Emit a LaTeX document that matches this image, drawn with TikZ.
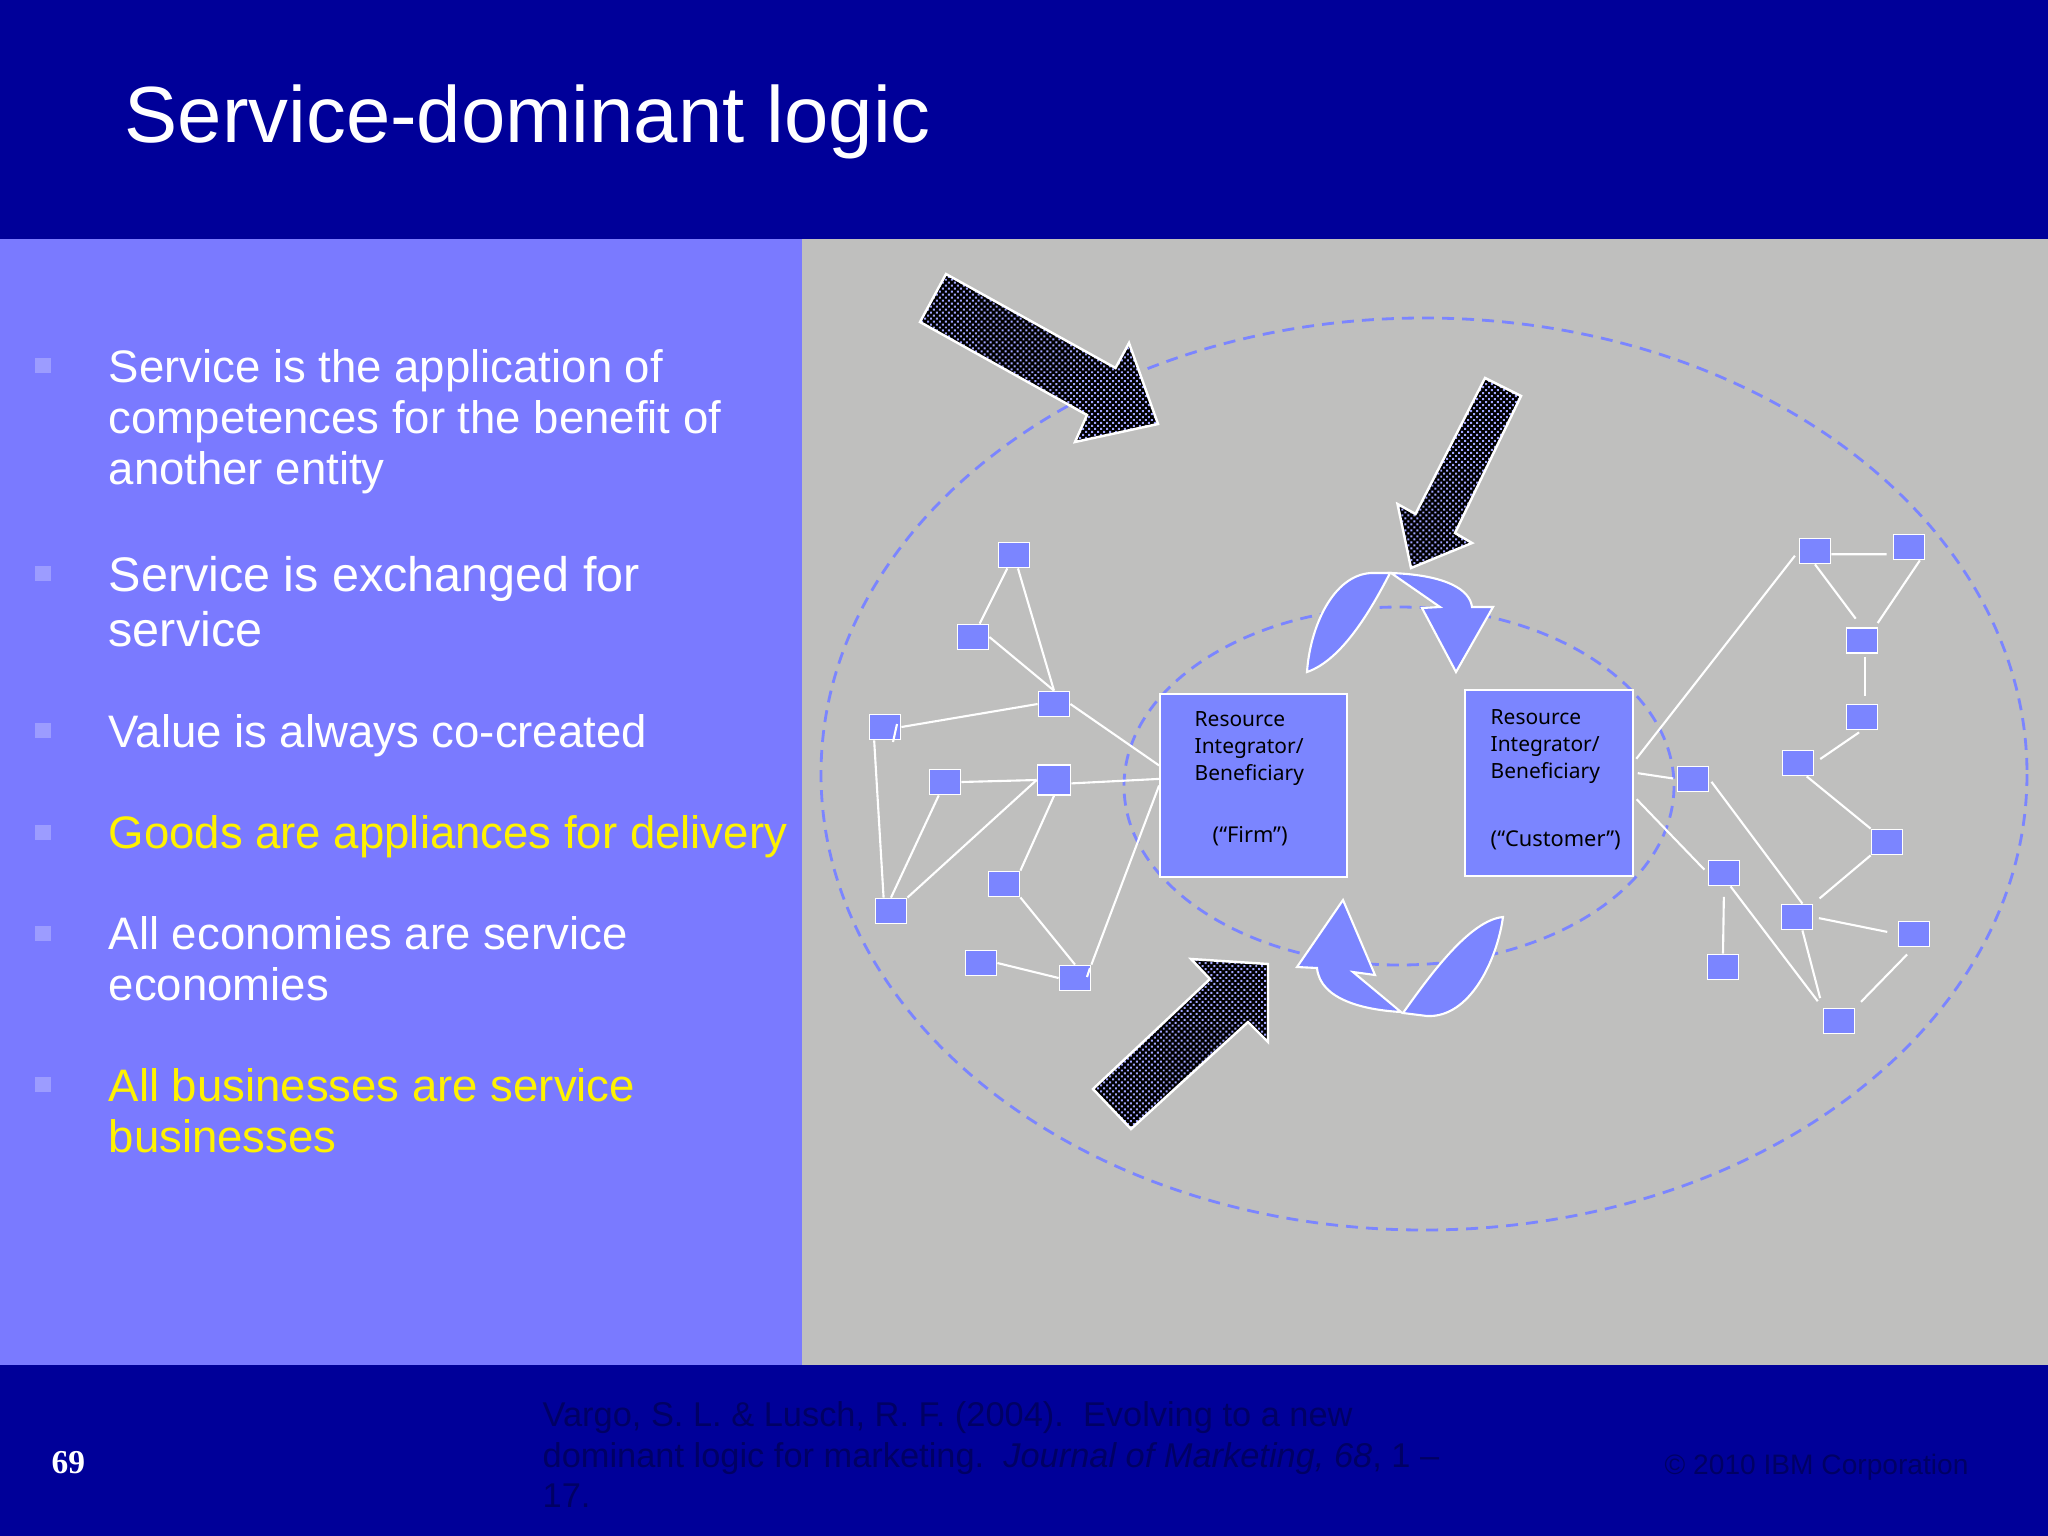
\documentclass[tikz,border=0pt]{standalone}
\usepackage{fontspec}
\setmainfont{Liberation Sans}
\newfontfamily\boxfont{Noto Sans}
\newfontfamily\pagefont{Liberation Serif}
\usetikzlibrary{patterns.meta}
\definecolor{slideblue}{HTML}{000099}
\definecolor{panelblue}{HTML}{7A7AFF}
\definecolor{periwinkle}{HTML}{7B85FF}
\definecolor{panelgray}{HTML}{BFBFBE}
\definecolor{bulletblue}{HTML}{9C9CFF}
\definecolor{dotblue}{HTML}{A0A4FF}
\definecolor{sourcetext}{HTML}{000064}
\tikzset{
  member/.style={draw=white, fill=periwinkle, line width=0.5pt, minimum width=0.31cm, minimum height=0.25cm, inner sep=0pt},
  party/.style={draw=white, fill=periwinkle, line width=0.5pt, inner sep=0pt},
  link/.style={draw=white, line width=0.6pt},
  boundary/.style={draw=periwinkle, line width=0.8pt, dash pattern=on 3.4pt off 2.3pt},
  force/.style={draw=white, line width=0.7pt, preaction={fill=black}, pattern={Dots[angle=45, distance=1.2pt, radius=0.4pt]}, pattern color=dotblue},
  cycle/.style={draw=white, fill=periwinkle, line width=0.6pt},
  item/.style={anchor=north west, align=left, text=white, inner sep=0pt, font=\fontsize{12.95}{14.5}\selectfont},
  yellowitem/.style={item, text=yellow},
  bullet/.style={fill=bulletblue, minimum size=0.15cm, inner sep=0pt},
  boxtext/.style={anchor=north west, align=left, inner sep=0pt, font=\boxfont\fontsize{5.95}{7.7}\selectfont},
  roletext/.style={boxtext, font=\boxfont\fontsize{6.2}{7.7}\selectfont}
}
\begin{document}
\begin{tikzpicture}[x=0.01cm, y=-0.01cm]
  \useasboundingbox (0,0) rectangle (2048,1536);
  % slide background
  \fill[slideblue] (0,0) rectangle (2048,1536);
  \fill[panelblue] (0,239) rectangle (802,1365);
  \fill[panelgray] (802,239) rectangle (2048,1365);
  \node[anchor=base west, text=white, inner sep=0pt, font=\fontsize{22.66}{26}\selectfont] (title) at (124,142) {Service-dominant logic};
  % bullet list
  \node[bullet] (b1) at (43,365) {};
  \node[bullet] (b2) at (43,573) {};
  \node[bullet] (b3) at (43,730) {};
  \node[bullet] (b4) at (43,832) {};
  \node[bullet] (b5) at (43,933) {};
  \node[bullet] (b6) at (43,1084) {};
  \node[item] (item1) at (108,349) {Service is the application of\\competences for the benefit of\\another entity};
  \node[item, font=\fontsize{13.8}{15.4}\selectfont] (item2) at (108,556) {Service is exchanged for\\service};
  \node[item] (item3) at (108,714) {Value is always co-created};
  \node[yellowitem] (item4) at (108,815) {Goods are appliances for delivery};
  \node[item] (item5) at (108,916) {All economies are service\\economies};
  \node[yellowitem] (item6) at (108,1068) {All businesses are service\\businesses};
  % outer and inner boundary
  \draw[boundary] (1424,774) ellipse (603 and 456);
  \draw[boundary] (1399,786) ellipse (275 and 179);
  % big arrows
  \draw[force] (946,274) -- (920,322) -- (1087,415) -- (1075,442) -- (1158,424) -- (1129,343) -- (1115.5,368) -- cycle;
  \draw[force] (1485,378) -- (1521,396) -- (1455,533) -- (1472,543) -- (1411,568) -- (1397.5,504) -- (1415.5,514) -- cycle;
  \draw[force] (1093,1089) -- (1131,1129) -- (1248,1022) -- (1268,1042) -- (1268,964) -- (1191,959) -- (1210,979) -- cycle;
  % exchange cycle
  \draw[cycle] (1307,672) .. controls (1310,627) and (1333,575) .. (1371,573) -- (1390,573) .. controls (1371,610) and (1342,660) .. (1307,672) -- cycle;
  \draw[cycle] (1391,573) .. controls (1447,575) and (1470,590) .. (1472,607) -- (1493,607) -- (1456,672) -- (1422,608) -- (1440,607) -- cycle;
  \draw[cycle] (1343,900) -- (1375,975) -- (1353,972) -- (1401,1012) .. controls (1365,1010) and (1320,1000) .. (1317,968) -- (1297,967) -- cycle;
  \draw[cycle] (1403,1013) .. controls (1430,975) and (1470,920) .. (1503,917) .. controls (1497,960) and (1470,1018) .. (1427,1016) -- cycle;
  % resource integrators
  \node[party, minimum width=1.87cm, minimum height=1.83cm] (firm) at (1253.5,785.5) {};
  \node[party, minimum width=1.68cm, minimum height=1.86cm] (customer) at (1549,783) {};
  \node[boxtext] (firmlabel) at (1194,711) {Resource\\Integrator/\\Beneficiary};
  \node[roletext] (firmrole) at (1212,826) {(“Firm”)};
  \node[boxtext] (customerlabel) at (1490,709) {Resource\\Integrator/\\Beneficiary};
  \node[roletext] (customerrole) at (1490,830) {(“Customer”)};
  % left network
  \node[member] (n1) at (1014,555) {};
  \node[member] (n2) at (973,637) {};
  \node[member] (n3) at (1054,704) {};
  \node[member] (n4) at (885,727) {};
  \node[member] (n5) at (945,782) {};
  \node[member, minimum width=0.33cm, minimum height=0.3cm] (n6) at (1054,780) {};
  \node[member] (n7) at (891,911) {};
  \node[member] (n8) at (1004,884) {};
  \node[member] (n9) at (981,963) {};
  \node[member] (n10) at (1075,978) {};
  % right network
  \node[member] (r1) at (1815,551) {};
  \node[member] (r2) at (1909,547) {};
  \node[member] (r3) at (1862,640.5) {};
  \node[member] (r4) at (1862,717) {};
  \node[member] (r5) at (1798,763) {};
  \node[member] (r6) at (1887,842) {};
  \node[member] (r7) at (1693,779) {};
  \node[member] (r8) at (1724,873) {};
  \node[member] (r9) at (1797,917) {};
  \node[member] (r10) at (1914,934) {};
  \node[member] (r11) at (1723,967) {};
  \node[member] (r12) at (1839,1021) {};
  % stray ticks inside two members
  \coordinate (ticka) at (897,724);
  \coordinate (tickb) at (893,742);
  \coordinate (tickc) at (1090,968);
  \coordinate (tickd) at (1087,977);
  \draw[link] (ticka) -- (tickb);
  \draw[link] (tickc) -- (tickd);
  % left links
  \draw[link] (n1) -- (n2);
  \draw[link] (n1) -- (n3.north);
  \draw[link] (n2.east) -- (n3.north);
  \draw[link] (n3.west) -- (n4.east);
  \draw[link] (n3.east) -- (firm.168);
  \draw[link] (n4.231) -- (n7.119);
  \draw[link] (n5.east) -- (n6.west);
  \draw[link] (n5) -- (n7.north);
  \draw[link] (n6.west) -- (n7.north east);
  \draw[link] (n6.-11) -- (firm.176.6);
  \draw[link] (n6.south) -- (n8.north east);
  \draw[link] (n8.south east) -- (n10.north);
  \draw[link] (n9.east) -- (n10.west);
  \draw[link] (n10.north east) -- (firm.180);
  % right links
  \draw[link, shorten <=1.1pt, shorten >=1.7pt] (customer.14) -- (r1.west);
  \draw[link, shorten >=1.7pt] (r1.-11) -- (r2.204);
  \draw[link, shorten >=3pt] (r1.south) -- (r3.north);
  \draw[link, shorten >=1.4pt] (r2.-51) -- (r3.46);
  \draw[link, shorten <=1pt, shorten >=2.3pt] (r3.-76) -- (r4.76);
  \draw[link, shorten <=1pt, shorten >=2pt] (r4.south) -- (r5.east);
  \draw[link] (r5.-57) -- (r6.north west);
  \draw[link, shorten >=2.3pt] (r6.south west) -- (r9.north east);
  \draw[link, shorten <=1pt] (r7.east) -- (r9.68);
  \draw[link, shorten <=1.1pt, shorten >=1pt] (customer.7) -- (r7.west);
  \draw[link, shorten <=1.1pt, shorten >=1.3pt] (customer.-9) -- (r8.west);
  \draw[link, shorten <=3pt] (r8.south) -- (r11.north);
  \draw[link, shorten >=2.3pt] (r8.-64) -- (r12.north west);
  \draw[link, shorten >=2.8pt] (r9.-68) -- (r12.north west);
  \draw[link, shorten <=1.6pt, shorten >=3pt] (r9.east) -- (r10.west);
  \draw[link, shorten <=2.8pt, shorten >=2.3pt] (r10.south) -- (r12.north east);
  % footer
  \node[anchor=base west, text=white, inner sep=0pt, font=\pagefont\bfseries\fontsize{9.5}{11}\selectfont] (page) at (51,1473) {69};
  \node[anchor=north west, align=left, text=sourcetext, inner sep=0pt, font=\fontsize{9.78}{11.5}\selectfont] (source) at (542,1401) {Vargo, S. L. \& Lusch, R. F. (2004).\ \ Evolving to a new\\dominant logic for marketing.\ \ \textit{Journal of Marketing, 68}, 1 –\\17.};
  \node[anchor=base west, text=sourcetext, inner sep=0pt, font=\fontsize{8}{10}\selectfont] (copyright) at (1664,1474) {© 2010 IBM Corporation};
\end{tikzpicture}
\end{document}
